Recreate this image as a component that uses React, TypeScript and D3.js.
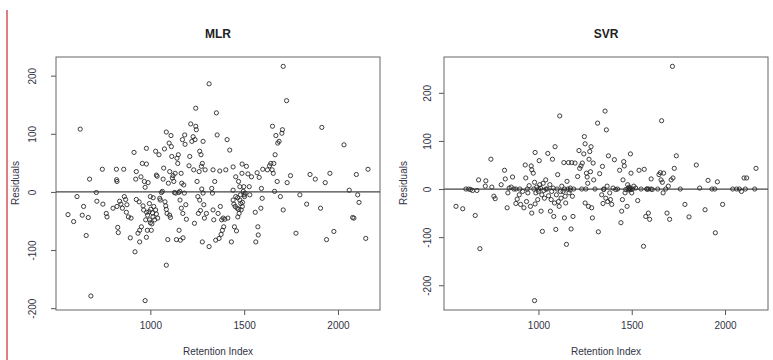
import { useEffect, useRef } from "react";
import * as d3 from "d3";

// MLR residuals [retention index, residual]
const mlrPoints: [number, number][] = [
  [561, -39], [591, -51], [609, -8], [626, 108], [637, -40], [644, -25], [658, -75], [669, -44],
  [676, 22], [683, -179], [712, -1], [715, -16], [744, 39], [747, -21], [765, -37], [769, -43],
  [801, -28], [819, 39], [820, 21], [822, 18], [822, -25], [826, -61], [829, -70], [836, -16],
  [843, -21], [851, -28], [858, 39], [861, -8], [868, -13], [872, -35], [875, -22], [883, -43],
  [897, -45], [893, -79], [913, 68], [918, -103], [922, 22], [925, 35], [925, -13], [934, -71],
  [940, -17], [943, -66], [943, -86], [950, 26], [952, -60], [957, 49], [961, -24], [964, -31],
  [968, 18], [972, 8], [979, 48], [979, 75], [980, -35], [975, -48], [984, -66], [979, -78],
  [972, -187], [988, 16], [993, -34], [996, -48], [1000, -53], [1000, -8], [1005, -66], [1011, -36],
  [1014, -43], [1018, -25], [1023, -48], [1028, -31], [1032, -38], [1028, 70], [1032, 29], [1036, 27],
  [1039, -45], [1046, 64], [1050, -11], [1053, -14], [1059, -1], [1064, 1], [1068, 22], [1071, 41],
  [1075, 74], [1078, -17], [1082, -24], [1085, 103], [1085, -30], [1089, -37], [1085, -126], [1093, -82],
  [1096, 15], [1100, 84], [1103, 35], [1103, -40], [1107, -44], [1110, 97], [1112, 78], [1114, 61],
  [1117, 24], [1121, 28], [1125, 18], [1128, -1], [1132, 32], [1135, -2], [1139, -82], [1142, 58],
  [1146, 49], [1149, 64], [1151, -1], [1153, -66], [1157, 1], [1158, -14], [1160, -83], [1164, 32],
  [1165, -28], [1167, 15], [1171, 90], [1173, -37], [1174, -79], [1178, 12], [1181, -2], [1183, 98],
  [1185, 82], [1189, -22], [1192, -47], [1206, 45], [1210, 61], [1215, 117], [1221, 87], [1228, 95],
  [1231, 38], [1235, -54], [1238, 90], [1242, 113], [1242, 144], [1245, 107], [1249, 18], [1253, -8],
  [1256, -37], [1260, 35], [1263, 70], [1263, -14], [1267, -32], [1270, 64], [1272, 44], [1274, 5],
  [1277, -86], [1277, 49], [1281, 87], [1281, -2], [1285, -22], [1288, -45], [1292, 38], [1299, -37],
  [1313, 186], [1313, -94], [1327, 6], [1331, -2], [1334, 38], [1334, -31], [1338, -48], [1343, 18],
  [1348, -83], [1352, 136], [1356, 98], [1361, -37], [1366, -80], [1370, 36], [1373, -25], [1377, -73],
  [1380, -48], [1384, -66], [1388, -45], [1391, -60], [1397, -47], [1402, 38], [1409, 90], [1413, -45],
  [1423, 72], [1432, -86], [1441, 43], [1441, 3], [1441, -14], [1445, -21], [1448, -60], [1452, -25],
  [1455, 26], [1455, -8], [1459, -67], [1462, -28], [1466, -43], [1470, 18], [1473, -37], [1477, -14],
  [1477, 9], [1480, -5], [1484, -31], [1488, 32], [1489, 48], [1491, -18], [1495, 1], [1498, 9],
  [1502, -8], [1505, -2], [1512, 44], [1520, 31], [1527, 9], [1530, -5], [1539, 26], [1559, -35],
  [1562, -86], [1569, 33], [1573, -60], [1575, -74], [1580, 25], [1592, 6], [1596, -11], [1589, -28],
  [1599, 39], [1624, 38], [1635, 45], [1642, 49], [1649, 38], [1651, 113], [1655, 32], [1658, 49],
  [1662, 1], [1665, 64], [1669, 97], [1676, 18], [1679, 84], [1686, 87], [1693, -8], [1701, 101],
  [1704, 107], [1708, 216], [1708, -31], [1726, 157], [1729, 16], [1747, 28], [1776, -71], [1797, -5],
  [1833, -21], [1851, 30], [1879, 22], [1907, -28], [1914, 111], [1932, 16], [1939, -82], [1957, 32],
  [1978, -68], [2032, 81], [2060, 3], [2078, -44], [2085, -45], [2098, 30], [2105, -5], [2112, -18],
  [2148, -80], [2160, 39],
  [985, -40], [1002, -30], [1008, -55], [995, -20], [1015, -10],
  [1465, -10], [1482, -20], [1490, -25], [1470, -30], [1500, -5],
];

// SVR residuals [retention index, residual]
const svrPoints: [number, number][] = [
  [558, -36], [594, -41], [611, 0], [626, 0], [636, -1], [647, -3], [661, -55], [670, -3],
  [679, 19], [686, -124], [715, 6], [718, 17], [745, 62], [750, 4], [761, -15], [768, -20],
  [800, 9], [818, 39], [822, 21], [832, -39], [836, -8], [843, 2], [854, 4], [861, 25],
  [868, 0], [879, 0], [879, -30], [886, -21], [897, -12], [904, -32], [915, -5], [922, -39],
  [929, 50], [932, 23], [936, -26], [943, -8], [950, 7], [957, -36], [961, 48], [964, 40],
  [964, -50], [972, 33], [975, 0], [979, 14], [982, 76], [982, -31], [979, -232], [986, -8],
  [991, 4], [996, -22], [1000, -5], [1004, 59], [1007, 9], [1011, 2], [1014, -46], [1018, -12],
  [1021, -88], [1025, 12], [1029, -3], [1032, -19], [1039, 19], [1046, 0], [1050, 74], [1054, -14],
  [1061, 9], [1064, -46], [1068, -22], [1071, -5], [1075, 62], [1079, 2], [1082, -57], [1086, -29],
  [1089, 88], [1093, -84], [1096, -12], [1103, 30], [1107, -26], [1111, -36], [1114, 152], [1118, -5],
  [1121, -19], [1125, 6], [1132, -5], [1136, 55], [1139, -60], [1143, -15], [1146, -29], [1150, -115],
  [1153, 16], [1157, 0], [1161, 55], [1164, -8], [1171, 2], [1175, -83], [1178, 55], [1182, -15],
  [1185, -57], [1189, 0], [1196, 54], [1210, 26], [1217, 80], [1221, 43], [1228, 48], [1232, 0],
  [1235, 54], [1243, 73], [1246, 109], [1250, 94], [1250, -29], [1254, 0], [1257, 33], [1261, 25],
  [1264, 12], [1268, -36], [1271, 62], [1275, 78], [1279, 36], [1282, 88], [1285, -39], [1289, -60],
  [1293, 54], [1296, 19], [1303, 0], [1317, 137], [1321, -89], [1328, 32], [1339, -12], [1343, 47],
  [1346, -30], [1350, -1], [1357, 162], [1361, -19], [1364, 123], [1368, 6], [1371, -26], [1375, 69],
  [1382, -8], [1386, -22], [1393, -32], [1400, 2], [1407, 61], [1414, -1], [1424, 0], [1435, 39],
  [1442, -70], [1446, -46], [1450, -22], [1453, 19], [1457, 57], [1460, 48], [1464, -8], [1468, -1],
  [1475, -36], [1478, 9], [1486, 4], [1489, 0], [1493, 73], [1496, 33], [1500, -8], [1504, 0],
  [1511, 6], [1521, 2], [1532, -24], [1539, 39], [1550, 0], [1563, -119], [1567, 41], [1575, -57],
  [1582, 0], [1589, -50], [1596, -63], [1604, 0], [1604, 21], [1639, 0], [1646, 30], [1653, 34],
  [1657, 19], [1660, 142], [1664, 14], [1668, -8], [1671, 33], [1682, 0], [1689, -50], [1696, 6],
  [1703, -63], [1711, 19], [1718, 255], [1721, 23], [1728, 43], [1739, 69], [1760, 0], [1785, -32],
  [1807, -58], [1846, 50], [1864, 2], [1893, -43], [1909, 18], [1930, 0], [1945, 0], [1948, -91],
  [1959, 15], [1987, -32], [2041, 0], [2062, 0], [2077, 0], [2088, -5], [2102, 23], [2109, 0],
  [2116, 23], [2159, 0], [2166, 43],
  [900, 0], [940, 0], [1000, 0], [1040, 0], [1100, 0], [1140, 0], [1170, -2], [1350, 0],
  [1480, 0], [1485, -2], [1490, 1], [1495, -1], [1580, 0], [1590, 0], [1610, -1],
];

const xTicks = [1000, 1500, 2000];
const mlrYTicks = [-200, -100, 0, 100, 200];
const svrYTicks = [-200, -100, 0, 100, 200];

const font = "Liberation Sans, Arial, sans-serif";

// R-style axis range: data extent padded by 4% each side
function rRange(vals: number[]): [number, number] {
  const [lo, hi] = d3.extent(vals) as [number, number];
  const pad = (hi - lo) * 0.04;
  return [lo - pad, hi + pad];
}

type PanelProps = {
  title: string;
  points: [number, number][];
  yTicks: number[];
  left: number;
  right: number;
  yLabelX: number;
  yTitleX: number;
};

function Panel({ title, points, yTicks, left, right, yLabelX, yTitleX }: PanelProps) {
  const gRef = useRef<SVGGElement>(null);
  const top = 57, bottom = 310;

  useEffect(() => {
    const g = d3.select(gRef.current);
    g.selectAll("*").remove();

    const x = d3.scaleLinear().domain(rRange(points.map(p => p[0]))).range([left, right]);
    const y = d3.scaleLinear().domain(rRange(points.map(p => p[1]))).range([bottom, top]);

    g.append("g")
      .attr("transform", `translate(0, ${bottom})`)
      .call(d3.axisBottom(x).tickValues(xTicks).tickSize(5).tickPadding(7).tickFormat(d3.format("d")))
      .call(a => a.select(".domain").remove())
      .call(a => a.selectAll("line").attr("stroke", "#555"))
      .call(a => a.selectAll("text").attr("fill", "#334").attr("font-size", 10).attr("font-family", font));

    const yAxis = g.append("g")
      .attr("transform", `translate(${left}, 0)`)
      .call(d3.axisLeft(y).tickValues(yTicks).tickSize(5).tickFormat(d3.format("d")));
    yAxis.select(".domain").remove();
    yAxis.selectAll("line").attr("stroke", "#555");
    yAxis.selectAll("text").remove();
    yAxis.selectAll(".tick")
      .append("text")
      .attr("transform", `translate(${yLabelX - left}, 0) rotate(-90)`)
      .attr("text-anchor", "middle")
      .attr("dy", "0.35em")
      .attr("fill", "#334")
      .attr("font-size", 10)
      .attr("font-family", font)
      .text(d => String(d));

    g.append("rect")
      .attr("x", left).attr("y", top)
      .attr("width", right - left).attr("height", bottom - top)
      .attr("fill", "none").attr("stroke", "#666").attr("stroke-width", 1);

    g.append("line")
      .attr("x1", left).attr("x2", right)
      .attr("y1", y(0)).attr("y2", y(0))
      .attr("stroke", "#444").attr("stroke-width", 1.2);

    g.append("g")
      .selectAll("circle")
      .data(points)
      .enter().append("circle")
      .attr("cx", d => x(d[0]))
      .attr("cy", d => y(d[1]))
      .attr("r", 2.1)
      .attr("fill", "none")
      .attr("stroke", "#2a2a2a")
      .attr("stroke-width", 0.9);

    const mid = (left + right) / 2;
    g.append("text")
      .attr("x", mid).attr("y", 38)
      .attr("text-anchor", "middle")
      .attr("font-weight", "bold")
      .attr("font-size", 12)
      .attr("font-family", font)
      .attr("fill", "#222")
      .text(title);

    g.append("text")
      .attr("x", mid).attr("y", 355)
      .attr("text-anchor", "middle")
      .attr("font-size", 10)
      .attr("font-family", font)
      .attr("fill", "#334")
      .text("Retention Index");

    g.append("text")
      .attr("transform", `translate(${yTitleX}, 183) rotate(-90)`)
      .attr("text-anchor", "middle")
      .attr("dy", "0.35em")
      .attr("font-size", 10)
      .attr("font-family", font)
      .attr("fill", "#334")
      .text("Residuals");
  }, []);

  return <g ref={gRef} />;
}

export default function App() {
  return (
    <svg width={773} height={360} style={{ position: "absolute", left: 0, top: 0, background: "#fff" }}>
      <line x1={7} x2={7} y1={10} y2={360} stroke="#c8282d" strokeWidth={1.2} />
      <Panel title="MLR" points={mlrPoints} yTicks={mlrYTicks} left={56} right={380} yLabelX={32} yTitleX={15} />
      <Panel title="SVR" points={svrPoints} yTicks={svrYTicks} left={444} right={768} yLabelX={427} yTitleX={403} />
    </svg>
  );
}
